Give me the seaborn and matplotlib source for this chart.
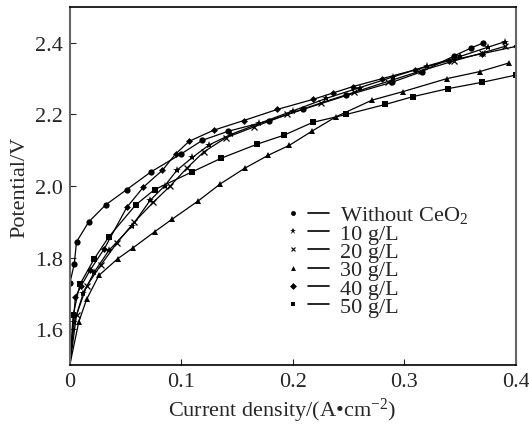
import matplotlib
matplotlib.use("Agg")
import matplotlib.pyplot as plt
import seaborn as sns
import pandas as pd
from matplotlib.lines import Line2D
from matplotlib.legend_handler import HandlerTuple

# 데이터
labels = ["Without CeO$_2$", "10 g/L", "20 g/L", "30 g/L", "40 g/L", "50 g/L"]
markers = ["o", "*", "x", "^", "D", "s"]

x_without = [0, 0.000, 0.004, 0.006, 0.017, 0.032, 0.051, 0.073, 0.100, 0.119, 0.142, 0.179, 0.209, 0.248, 0.289, 0.316, 0.345, 0.360, 0.371]
y_without = [1.50, 1.728, 1.783, 1.844, 1.900, 1.947, 1.990, 2.040, 2.090, 2.128, 2.153, 2.183, 2.214, 2.253, 2.290, 2.320, 2.364, 2.386, 2.400]

x_10 = [0, 0.004, 0.012, 0.022, 0.035, 0.056, 0.072, 0.085, 0.096, 0.110, 0.125, 0.145, 0.170, 0.200, 0.230, 0.260, 0.290, 0.320, 0.350, 0.375, 0.390]
y_10 = [1.50, 1.620, 1.700, 1.760, 1.820, 1.889, 1.960, 2.000, 2.044, 2.080, 2.115, 2.145, 2.175, 2.210, 2.245, 2.275, 2.305, 2.335, 2.362, 2.388, 2.403]

x_20 = [0, 0.006, 0.015, 0.028, 0.042, 0.058, 0.075, 0.090, 0.105, 0.120, 0.140, 0.165, 0.195, 0.225, 0.255, 0.285, 0.315, 0.345, 0.370, 0.390]
y_20 = [1.50, 1.640, 1.720, 1.780, 1.840, 1.900, 1.955, 2.000, 2.050, 2.095, 2.135, 2.165, 2.200, 2.232, 2.262, 2.292, 2.322, 2.350, 2.372, 2.390]

x_30 = [0, 0.008, 0.015, 0.026, 0.043, 0.057, 0.076, 0.092, 0.115, 0.135, 0.157, 0.178, 0.197, 0.217, 0.239, 0.271, 0.299, 0.338, 0.368, 0.394]
y_30 = [1.50, 1.620, 1.683, 1.750, 1.797, 1.828, 1.872, 1.908, 1.958, 2.006, 2.050, 2.086, 2.114, 2.153, 2.194, 2.240, 2.264, 2.300, 2.320, 2.344]

x_40 = [0, 0.005, 0.010, 0.018, 0.031, 0.051, 0.066, 0.083, 0.095, 0.107, 0.129, 0.156, 0.186, 0.218, 0.236, 0.254, 0.280, 0.310, 0.340, 0.370, 0.400]
y_40 = [1.50, 1.690, 1.720, 1.764, 1.825, 1.940, 1.997, 2.044, 2.090, 2.125, 2.156, 2.183, 2.214, 2.242, 2.260, 2.278, 2.300, 2.325, 2.350, 2.370, 2.390]

x_50 = [0, 0.003, 0.009, 0.022, 0.035, 0.059, 0.076, 0.110, 0.136, 0.168, 0.192, 0.218, 0.248, 0.283, 0.308, 0.339, 0.370, 0.400]
y_50 = [1.50, 1.640, 1.725, 1.797, 1.858, 1.947, 1.990, 2.040, 2.078, 2.117, 2.142, 2.178, 2.200, 2.228, 2.250, 2.272, 2.290, 2.310]

xs = [x_without, x_10, x_20, x_30, x_40, x_50]
ys = [y_without, y_10, y_20, y_30, y_40, y_50]
msizes = [4.5, 6, 4, 4.5, 3.5, 4.5]

sns.set_style("ticks")
plt.rcParams["font.family"] = ["Liberation Serif", "DejaVu Serif"]
plt.rcParams["mathtext.fontset"] = "custom"
plt.rcParams["mathtext.rm"] = "Liberation Serif"
plt.rcParams["mathtext.it"] = "Liberation Serif:italic"

fig = plt.figure(figsize=(5.29, 4.27), dpi=100)
ax = fig.add_axes([0.132, 0.143, 0.843, 0.838])

for x, y, m, ms in zip(xs, ys, markers, msizes):
    df = pd.DataFrame({"x": x, "y": y})
    kw = dict(mfc="k", mec="k", mew=0) if m != "x" else dict(mec="k", mew=0.9)
    sns.lineplot(data=df, x="x", y="y", sort=False, estimator=None, color="k",
                 lw=0.9, marker=m, markersize=ms, markevery=slice(1, None), ax=ax, **kw)

fs = 16
ax.set_xlim(0, 0.4)
ax.set_ylim(1.5, 2.5)
ax.set_xticks([0, 0.1, 0.2, 0.3, 0.4])
ax.set_xticklabels(["0", "0.1", "0.2", "0.3", "0.4"])
ax.set_yticks([1.6, 1.8, 2.0, 2.2, 2.4])
ax.set_yticklabels(["1.6", "1.8", "2.0", "2.2", "2.4"])
ax.tick_params(direction="in", length=4, width=0.8, labelsize=fs, pad=5)
ax.set_xlabel("Current density/(A\u2022cm$^{-2}$)", fontsize=fs, labelpad=2)
ax.xaxis.set_label_coords(0.475, -0.085)
ax.set_ylabel("Potential/V", fontsize=fs, labelpad=4)
for s in ["top", "bottom"]:
    ax.spines[s].set_color("black")
    ax.spines[s].set_linewidth(1.2)
for s in ["left", "right"]:
    ax.spines[s].set_color("#666666")
    ax.spines[s].set_linewidth(1.5)

# 범례: 마커 + 짧은 선
handles = [(Line2D([], [], marker=m, ls="none", color="k", ms=3.5 if m != "*" else 5, mew=0.8 if m == "x" else 0),
            Line2D([], [], color="k", lw=1.2)) for m in markers]
ax.legend(handles, labels, handler_map={tuple: HandlerTuple(ndivide=None, pad=0.15)},
          loc="upper left", bbox_to_anchor=(0.452, 0.48), frameon=False, fontsize=fs,
          handlelength=2.1, handletextpad=0.5, labelspacing=-0.1, borderpad=0)

fig.savefig("out.png", dpi=100)
